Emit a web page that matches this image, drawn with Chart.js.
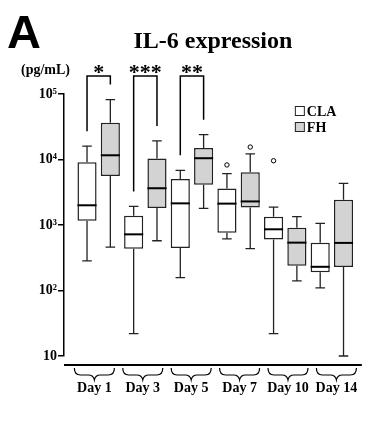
<!DOCTYPE html>
<html><head><meta charset="utf-8">
<script src="https://cdn.jsdelivr.net/npm/chart.js@4"></script>
<style>html,body{margin:0;padding:0;background:#fff}#wrap{width:383px;height:426px;position:relative}</style>
</head><body><div id="wrap"><canvas id="c" width="383" height="426"></canvas></div>
<script>
// ---- data (pg/mL) ----
const days = ['Day 1', 'Day 3', 'Day 5', 'Day 7', 'Day 10', 'Day 14'];
const seriesNames = ['CLA', 'FH'];

const claMin = [284, 22, 157, 615, 22, 110];
const claQ1  = [1160, 435, 446, 764, 600, 190];
const claMed = [2000, 720, 2140, 2120, 860, 230];
const claQ3  = [9040, 1380, 5050, 3600, 1340, 538];
const claMax = [16000, 1920, 6840, 6100, 1870, 1056];
const claOut = [[], [], [], [8260], [9570], []];

const fhMin = [461, 575, 1790, 435, 140, 10];
const fhQ1  = [5590, 1810, 4120, 1850, 239, 228];
const fhMed = [11600, 3640, 10460, 2290, 538, 533];
const fhQ3  = [36500, 10340, 14970, 6380, 904, 2430];
const fhMax = [82200, 19200, 23900, 12160, 1340, 4310];
const fhOut = [[], [], [], [15500], [], []];

const yTickValues = [10, 100, 1000, 10000, 100000];
const yTickLabels = ['10', '10\u00B2', '10\u00B3', '10\u2074', '10\u2075'];

const sigDays = [0, 1, 2];
const sigLabels = ['*', '***', '**'];

// ---- style ----
const SERIF = "'Liberation Serif', 'Times New Roman', serif";
const SANS = "'Liberation Sans', Arial, sans-serif";
const stats = [
  {min: claMin, q1: claQ1, med: claMed, q3: claQ3, max: claMax, out: claOut},
  {min: fhMin, q1: fhQ1, med: fhMed, q3: fhQ3, max: fhMax, out: fhOut}
];

const boxPlugin = {
  id: 'boxExtras',
  afterDatasetsDraw(chart) {
    const ctx = chart.ctx, y = chart.scales.y;
    ctx.save();
    stats.forEach((s, di) => {
      const meta = chart.getDatasetMeta(di);
      meta.data.forEach((el, i) => {
        const x = el.x, hw = el.width / 2, cw = hw / 2;
        const pMin = y.getPixelForValue(s.min[i]), pMax = y.getPixelForValue(s.max[i]);
        const pQ1 = y.getPixelForValue(s.q1[i]), pQ3 = y.getPixelForValue(s.q3[i]);
        const pMed = y.getPixelForValue(s.med[i]);
        ctx.strokeStyle = '#222';
        ctx.lineWidth = 1.3;
        ctx.beginPath();
        ctx.moveTo(x, pQ3); ctx.lineTo(x, pMax);
        ctx.moveTo(x - cw, pMax); ctx.lineTo(x + cw, pMax);
        ctx.moveTo(x, pQ1); ctx.lineTo(x, pMin);
        ctx.moveTo(x - cw, pMin); ctx.lineTo(x + cw, pMin);
        ctx.stroke();
        ctx.strokeStyle = '#000';
        ctx.lineWidth = 2;
        ctx.beginPath();
        ctx.moveTo(x - hw, pMed); ctx.lineTo(x + hw, pMed);
        ctx.stroke();
        ctx.lineWidth = 1;
        s.out[i].forEach(v => {
          ctx.beginPath();
          ctx.arc(x, y.getPixelForValue(v), 2.2, 0, Math.PI * 2);
          ctx.fillStyle = '#fff'; ctx.fill();
          ctx.strokeStyle = '#000'; ctx.stroke();
        });
      });
    });
    ctx.restore();
  },
  afterDraw(chart) {
    const ctx = chart.ctx, ca = chart.chartArea, y = chart.scales.y, x2 = chart.scales.x2;
    ctx.save();
    ctx.fillStyle = '#000';
    ctx.strokeStyle = '#000';
    // panel letter
    ctx.font = 'bold 47px ' + SANS;
    ctx.textAlign = 'left'; ctx.textBaseline = 'alphabetic';
    ctx.fillText('A', 7, 48);
    // unit
    ctx.font = 'bold 14px ' + SERIF;
    ctx.textAlign = 'right';
    ctx.fillText('(pg/mL)', 70, 74);
    // x baseline
    ctx.lineWidth = 2;
    ctx.beginPath();
    ctx.moveTo(ca.left, ca.bottom + 9); ctx.lineTo(ca.right, ca.bottom + 9);
    ctx.stroke();
    // braces
    ctx.lineWidth = 1.2;
    x2.ticks.forEach(t => {
      const cx = x2.getPixelForValue(t.value);
      const t0 = ca.bottom + 12, m = ca.bottom + 19, b = ca.bottom + 24, w = 20;
      ctx.beginPath();
      ctx.moveTo(cx - w, t0);
      ctx.quadraticCurveTo(cx - w, m, cx - w + 6, m);
      ctx.lineTo(cx - 6, m);
      ctx.quadraticCurveTo(cx - 1, m, cx, b);
      ctx.quadraticCurveTo(cx + 1, m, cx + 6, m);
      ctx.lineTo(cx + w - 6, m);
      ctx.quadraticCurveTo(cx + w, m, cx + w, t0);
      ctx.stroke();
    });
    // significance brackets
    const m0 = chart.getDatasetMeta(0), m1 = chart.getDatasetMeta(1);
    ctx.lineWidth = 1.5;
    sigDays.forEach((d, k) => {
      const xa = m0.data[d].x, xb = m1.data[d].x;
      const top = ca.top - 18;
      const ya = y.getPixelForValue(claMax[d]) - 15;
      const yb = y.getPixelForValue(fhMax[d]) - 15;
      ctx.beginPath();
      ctx.moveTo(xa, ya); ctx.lineTo(xa, top); ctx.lineTo(xb, top); ctx.lineTo(xb, yb);
      ctx.stroke();
      ctx.font = 'bold 22px ' + SERIF;
      ctx.textAlign = 'center'; ctx.textBaseline = 'alphabetic';
      ctx.fillText(sigLabels[k], (xa + xb) / 2, ca.top - 15);
    });
    // legend
    const lx = ca.right - 67, ly = ca.top + 12;
    chart.data.datasets.forEach((ds, i) => {
      const yy = ly + i * 16;
      ctx.fillStyle = ds.backgroundColor;
      ctx.fillRect(lx, yy, 9, 9);
      ctx.strokeStyle = '#222'; ctx.lineWidth = 1;
      ctx.strokeRect(lx + 0.5, yy + 0.5, 9, 9);
      ctx.fillStyle = '#000';
      ctx.font = 'bold 14px ' + SERIF;
      ctx.textAlign = 'left'; ctx.textBaseline = 'alphabetic';
      ctx.fillText(ds.label, lx + 12, yy + 9.5);
    });
    ctx.restore();
  }
};

const boxData = (q1, q3) => days.map((d, i) => ({x: i + 1, y: [q1[i], q3[i]]}));
const dayTicks = s => { s.ticks = days.map((d, i) => ({value: i + 1})); };

new Chart(document.getElementById('c'), {
  type: 'bar',
  data: {
    datasets: [
      {label: seriesNames[0], data: boxData(claQ1, claQ3), backgroundColor: '#ffffff', borderColor: '#222', borderWidth: 1.5, borderSkipped: false},
      {label: seriesNames[1], data: boxData(fhQ1, fhQ3), backgroundColor: '#d3d3d3', borderColor: '#222', borderWidth: 1.5, borderSkipped: false}
    ]
  },
  options: {
    responsive: false,
    animation: false,
    categoryPercentage: 1.0,
    barPercentage: 0.82,
    layout: {padding: {left: 0, right: 15, top: 0, bottom: 0}},
    plugins: {
      legend: {display: false},
      tooltip: {enabled: false},
      title: {
        display: true, text: 'IL-6 expression', fullSize: false, color: '#000',
        font: {family: SERIF, size: 24, weight: 'bold'},
        padding: {top: 27.6, bottom: 37.6}
      }
    },
    scales: {
      x: {
        type: 'linear', display: false, min: 0.2563, max: 6.643, offset: false,
        afterBuildTicks: dayTicks
      },
      x2: {
        type: 'linear', position: 'bottom', min: 0.3725, max: 6.526, offset: false,
        grid: {display: false, drawTicks: false}, border: {display: false},
        ticks: {padding: 24, color: '#000', maxRotation: 0, autoSkip: false,
          font: {family: SERIF, size: 14, weight: 'bold'},
          callback: v => days[v - 1] || ''},
        afterBuildTicks: dayTicks,
        afterFit: s => { s.height = 70; }
      },
      y: {
        type: 'logarithmic', min: 10, max: 100000,
        grid: {display: true, drawOnChartArea: false, drawTicks: true, tickLength: 6, color: '#000', lineWidth: 1.5},
        border: {display: true, color: '#000', width: 1.5},
        ticks: {padding: 1, color: '#000', autoSkip: false,
          font: {family: SERIF, size: 14, weight: 'bold'},
          callback: v => { const k = yTickValues.indexOf(v); return k < 0 ? '' : yTickLabels[k]; }},
        afterBuildTicks: s => { s.ticks = yTickValues.map(v => ({value: v})); },
        afterFit: s => { s.width = 64; }
      }
    }
  },
  plugins: [boxPlugin]
});
</script>
</body></html>
